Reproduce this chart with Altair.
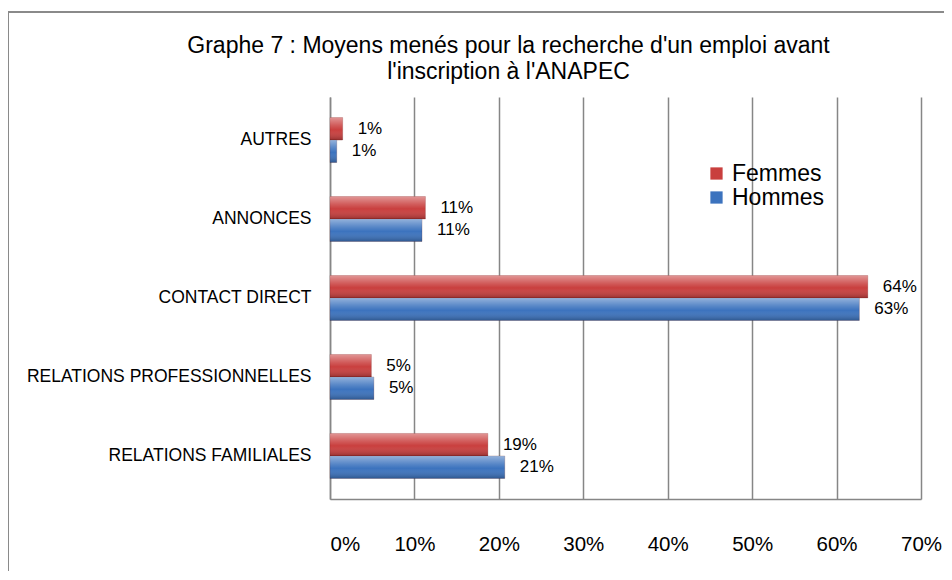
import altair as alt
import pandas as pd

categories = ["AUTRES", "ANNONCES", "CONTACT DIRECT",
              "RELATIONS PROFESSIONNELLES", "RELATIONS FAMILIALES"]
series = ["Femmes", "Hommes"]
femmes = [0.015, 0.113, 0.637, 0.049, 0.187]
hommes = [0.008, 0.109, 0.627, 0.052, 0.207]
femmes_labels = ["1%", "11%", "64%", "5%", "19%"]
hommes_labels = ["1%", "11%", "63%", "5%", "21%"]
x_ticks = [0, 0.1, 0.2, 0.3, 0.4, 0.5, 0.6, 0.7]
title_lines = ["Graphe 7 : Moyens menés pour la recherche d'un emploi avant",
               "l'inscription à l'ANAPEC"]
colors = ["#C93F3E", "#3C73BE"]

rows = []
for c, f, h, fl, hl in zip(categories, femmes, hommes, femmes_labels, hommes_labels):
    rows.append({"cat": c, "serie": "Femmes", "val": f, "lab": fl})
    rows.append({"cat": c, "serie": "Hommes", "val": h, "lab": hl})
df = pd.DataFrame(rows)

y_enc = alt.Y("cat:N", sort=categories, title=None,
              scale=alt.Scale(paddingInner=0.43, paddingOuter=0.26),
              axis=alt.Axis(labelFont="Liberation Sans", labelFontSize=17.5,
                            labelColor="#000000", labelPadding=19, ticks=False,
                            labelLimit=0,
                            domainColor="#868686", domainWidth=1.5))
yoff = alt.YOffset("serie:N", sort=series,
                   scale=alt.Scale(domain=series, paddingInner=0, paddingOuter=0))
x_enc = alt.X("val:Q", title=None,
              scale=alt.Scale(domain=[0, 0.7], nice=False),
              axis=alt.Axis(values=x_ticks, format=".0%", ticks=False,
                            labelFont="Liberation Sans", labelFontSize=20.5,
                            labelColor="#000000", labelPadding=35,
                            labelFlush=False,
                            labelAlign=alt.expr("datum.value == 0 ? 'left' : 'center'"),
                            gridColor="#868686", gridWidth=1.5,
                            domainColor="#868686", domainWidth=1.5))

base = alt.Chart(df)

bars = base.mark_bar(stroke="#5a1010", strokeWidth=0.5, strokeOpacity=0.4).encode(
    y=y_enc, yOffset=yoff, x=x_enc,
    color=alt.Color("serie:N", sort=series, title=None,
                    scale=alt.Scale(domain=series, range=colors),
                    legend=alt.Legend(orient="none", legendX=375, legendY=65,
                                      symbolType="square", symbolSize=150,
                                      symbolStrokeWidth=0, labelFontSize=23,
                                      labelFont="Liberation Sans",
                                      labelColor="#000000", rowPadding=-1,
                                      padding=0, labelOffset=4)),
)

shine = base.mark_bar(
    color=alt.Gradient(
        gradient="linear", x1=0, x2=0, y1=0, y2=1,
        stops=[alt.GradientStop(color="rgba(255,255,255,0.45)", offset=0),
               alt.GradientStop(color="rgba(255,255,255,0.15)", offset=0.35),
               alt.GradientStop(color="rgba(255,255,255,0)", offset=0.55),
               alt.GradientStop(color="rgba(0,0,0,0.25)", offset=1)])
).encode(y=y_enc, yOffset=yoff, x=x_enc)

labels = base.mark_text(align="left", baseline="middle", dx=15,
                        font="Liberation Sans", fontSize=17, color="#000000").encode(
    y=y_enc, yOffset=yoff, x=x_enc, text="lab:N")

frame = alt.Chart(pd.DataFrame({"a": [0]})).mark_rect(
    fill="transparent", stroke="#8a8a8a", strokeWidth=2).encode(
    x=alt.value(-322), x2=alt.value(700), y=alt.value(-85), y2=alt.value(700))

chart = alt.layer(frame, bars, shine, labels).properties(
    width=591, height=402,
    padding={"left": 322, "top": 89, "right": 23, "bottom": 72},
    autosize=alt.AutoSizeParams(type="none"),
    title=alt.TitleParams(title_lines, anchor="middle", frame="group", dx=-117,
                          offset=0, dy=73,
                          font="Liberation Sans", fontSize=23, fontWeight="normal",
                          lineHeight=26, color="#000000"),
).configure_view(stroke=None).configure_axis(grid=True).configure_axisY(grid=False)

chart.save("out.html", embed_options={"renderer": "svg", "actions": False})
